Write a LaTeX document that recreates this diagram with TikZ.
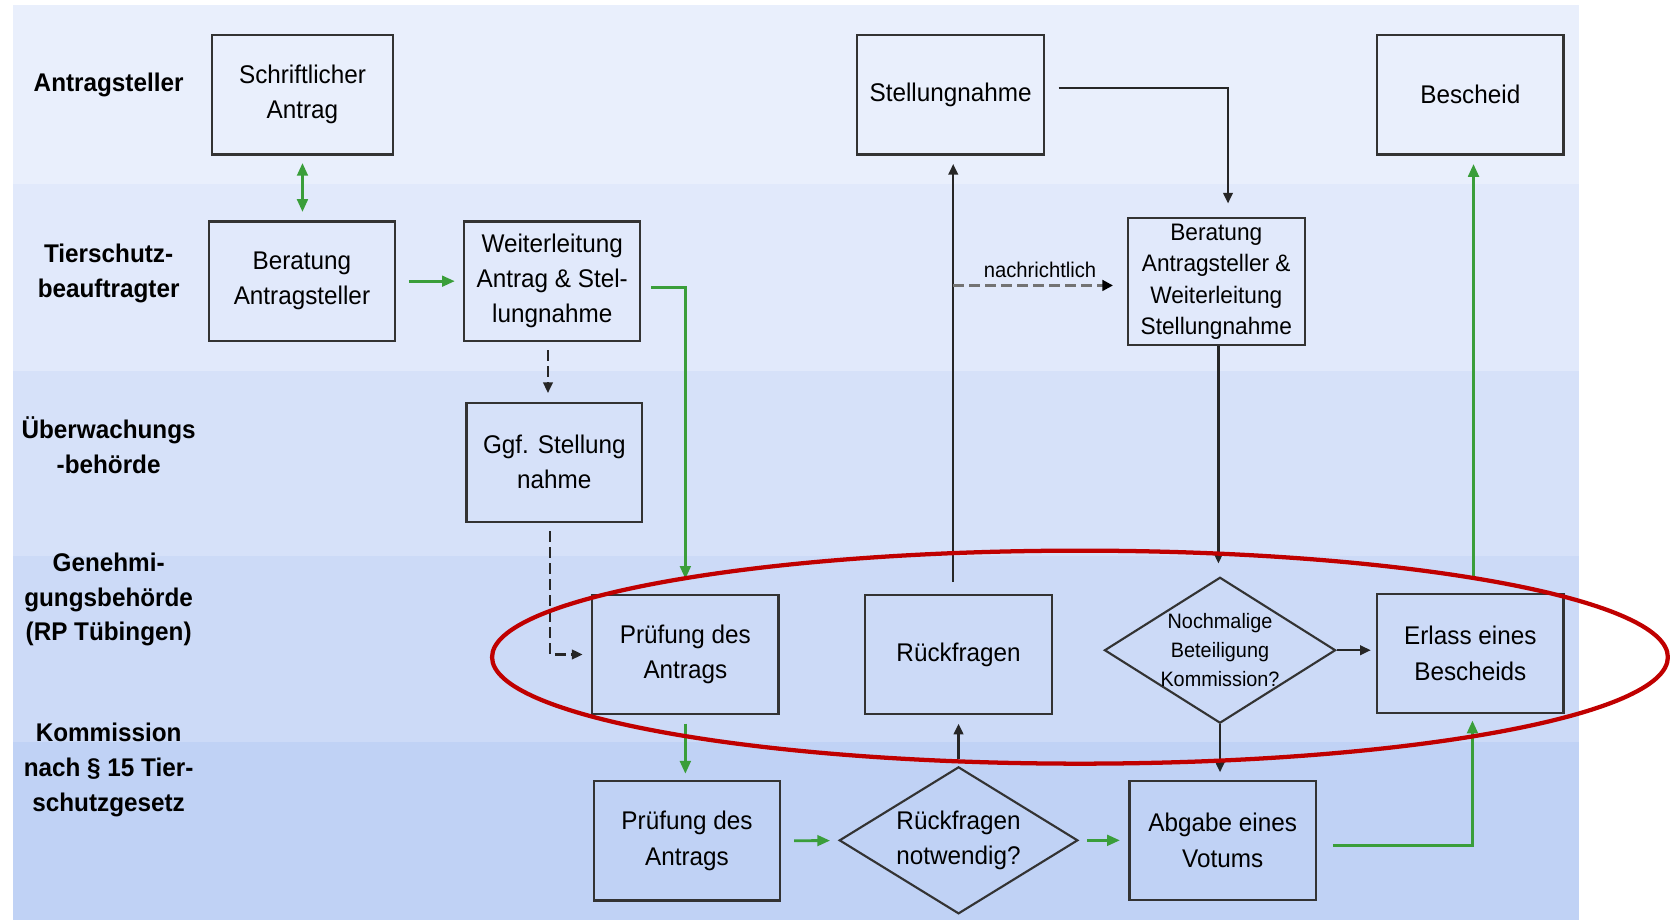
\documentclass[tikz,border=0pt]{standalone}
\usepackage{fontspec}
\setmainfont{Liberation Sans}[FakeStretch=0.95]
\usetikzlibrary{arrows.meta,shapes.geometric}
\definecolor{laneA}{HTML}{E9EFFC}
\definecolor{laneB}{HTML}{E1E9FB}
\definecolor{laneC}{HTML}{D6E1F9}
\definecolor{laneD}{HTML}{CCDAF7}
\definecolor{laneE}{HTML}{C0D2F5}
\definecolor{flowgreen}{HTML}{3A9E3A}
\definecolor{ringred}{HTML}{C00000}
\begin{document}
\begin{tikzpicture}[x=0.5pt,y=-0.5pt,
	every node/.style={font=\fontsize{12}{16.5}\selectfont,align=center,inner sep=0pt},
	box/.style={rectangle,draw=black!80,line width=1pt,minimum width=87.5pt,minimum height=56pt},
	rhomb/.style={diamond,draw=black!80,line width=1pt},
	lane/.style={font=\bfseries\fontsize{12}{16.25}\selectfont},
	gline/.style={draw=flowgreen,line width=1.3pt,>={Triangle[length=6pt,width=5pt]},->},
	bline/.style={draw=black!85,line width=1pt,>={Triangle[length=5pt,width=4.5pt]},->},
	dline/.style={bline,dash pattern=on 5pt off 2.5pt},
	nline/.style={draw=black!55,line width=1.5pt,dash pattern=on 5pt off 2.5pt,-{Triangle[length=5pt,width=5pt,color=black]}}]

			\useasboundingbox (0,0) rectangle (1568,864);
			\fill[laneA] (12,5) rectangle (1483,173);
			\fill[laneB] (12,173) rectangle (1483,348);
			\fill[laneC] (12,348) rectangle (1483,522);
			\fill[laneD] (12,522) rectangle (1483,697);
			\fill[laneE] (12,697) rectangle (1483,864);

			\node[lane] (l1) at (102,80) {Antragsteller};
			\node[lane] (l2) at (102,257) {Tierschutz-\\beauftragter};
			\node[lane] (l3) at (102,418) {Überwachungs\\-behörde};
			\node[lane] (l4) at (102,563) {Genehmi-\\gungsbehörde\\(RP Tübingen)};
			\node[lane] (l5) at (102,723) {Kommission\\nach § 15 Tier-\\schutzgesetz};

			\node[box,minimum width=85pt] (antrag) at (284,89) {Schriftlicher\\Antrag};
			\node[box] (berat) at (283.5,264) {Beratung\\Antragsteller};
			\node[box,minimum width=82.5pt] (weiter) at (518.5,264) {Weiterleitung\\Antrag \& Stel-\\lungnahme};
			\node[box,minimum width=82.5pt] (ggf) at (520.5,434) {Ggf. Stellung\\nahme};
			\node[box] (pruefRP) at (643.5,614.5) {Prüfung des\\Antrags};
			\node[box] (rueck) at (900,614.5) {Rückfragen};
			\node[box] (erlass) at (1380.5,613.5) {Erlass eines\\Bescheids};
			\node[box] (pruefK) at (645,789.5) {Prüfung des\\Antrags};
			\node[box] (votum) at (1148,789) {Abgabe eines\\Votums};
			\node[box] (stell) at (892.5,89) {Stellungnahme};
			\node[box] (bescheid) at (1380.5,89) {Bescheid};
			\node[box,minimum width=83pt,minimum height=59.5pt,font=\fontsize{11.2}{14.75}\selectfont] (beratW) at (1142,264.5) {Beratung\\Antragsteller \&\\Weiterleitung\\Stellungnahme};
			\node[rhomb,aspect=1.58,inner sep=-3pt,minimum width=108.5pt,minimum height=68.5pt,font=\fontsize{9.8}{13.5}\selectfont] (nochm) at (1145.5,610.5) {Nochmalige\\Beteiligung\\Kommission?};
			\node[rhomb,aspect=1.62,minimum width=112pt,minimum height=69pt] (rnotw) at (900,789) {Rückfragen\\notwendig?};

			\draw[gline,<->,shorten <=3.5pt,shorten >=4pt] (antrag) -- (antrag |- berat.north);
			\draw[gline,shorten <=6pt,shorten >=4pt] (berat) -- (weiter);
			\draw[gline,shorten <=4.5pt,shorten >=7pt] ([yshift=-3pt]weiter.east) -| (pruefRP.north);
			\draw[dline,shorten <=4pt,shorten >=4pt] ([xshift=-2pt]weiter.south) -- ([xshift=-2pt]weiter.south |- ggf.north);
			\draw[dline,shorten <=4pt,shorten >=4pt] ([xshift=-2pt]ggf.south) |- (pruefRP.west);
			\draw[gline,shorten <=4pt,shorten >=3pt] (pruefRP) -- (pruefRP |- pruefK.north);
			\draw[gline,shorten <=6pt,shorten >=4pt] (pruefK) -- (rnotw);
			\draw[gline,shorten <=4pt,shorten >=4pt] (rnotw) -- (votum);
			\draw[bline,shorten <=3pt,shorten >=4pt] (rnotw) -- (rueck);
			\draw[bline,shorten <=5.5pt,shorten >=4pt] ([xshift=-2.5pt]rueck.north) -- ([xshift=-2.5pt]rueck.north |- stell.south);
			\draw[nline,shorten >=6.5pt] ([xshift=-2.5pt,yshift=-1.75pt]rueck.north |- beratW) -- node[above=3pt,font=\fontsize{10}{12}\selectfont] (nr) {nachrichtlich} ([yshift=-1.75pt]beratW.west);
			\draw[bline,shorten <=6.5pt,shorten >=6.5pt] ([yshift=3pt]stell.east) -| ([xshift=5.5pt]beratW.north);
			\draw[bline,shorten >=6pt] ([xshift=1pt]beratW.south) -- ([xshift=1pt]beratW.south |- nochm.north);
			\draw[bline,shorten >=2.5pt] (nochm.east) -- (nochm.east -| erlass.west);
			\draw[bline,shorten >=3.5pt] (nochm) -- (nochm |- votum.north);
			\draw[gline,shorten <=7.5pt,shorten >=3pt] ([yshift=-2.5pt]votum.east) -| ([xshift=1pt]erlass.south);
			\draw[gline,shorten <=6.5pt,shorten >=4pt] ([xshift=1.5pt]erlass.north) -- ([xshift=1.5pt]erlass.north |- bescheid.south);

			\draw[ringred,line width=2pt] (1014,617) ellipse [x radius=276pt,y radius=50pt];
		\end{tikzpicture}
\end{document}
